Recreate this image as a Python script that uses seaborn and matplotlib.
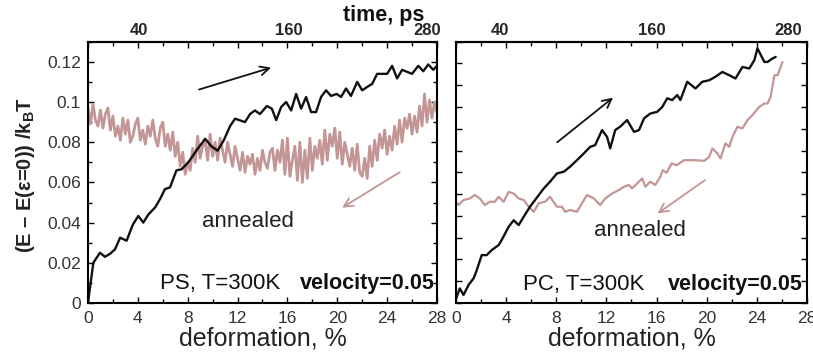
import numpy as np
import pandas as pd
import matplotlib
matplotlib.use("Agg")
import matplotlib.pyplot as plt
from matplotlib.ticker import MultipleLocator, FuncFormatter, NullLocator
import seaborn as sns

# PS panel, deformation run (black)
ps_def_x = [0, 0.43, 0.96, 1.36, 1.77, 2.17, 2.58, 3.1, 3.6, 4.04, 4.44, 4.84, 5.38, 5.78,
            6.18, 6.58, 7.1, 7.5, 8.05, 8.8, 9.4, 9.9, 10.4, 10.9, 11.4, 11.8, 12.6, 13.0,
            13.4, 13.8, 14.35, 14.75, 15.1, 15.5, 15.9, 16.3, 16.7, 17.1, 17.5, 17.9, 18.3,
            18.7, 19.1, 19.5, 19.95, 20.3, 20.7, 21.1, 21.6, 22.0, 22.4, 22.8, 23.2, 24.0,
            24.4, 24.8, 25.2, 25.6, 26.0, 26.5, 26.9, 27.3, 27.7, 28.0]
ps_def_y = [0, 0.020, 0.025, 0.023, 0.0245, 0.0267, 0.0325, 0.031, 0.039, 0.0433, 0.040,
            0.044, 0.0475, 0.0517, 0.0567, 0.0575, 0.066, 0.0665, 0.070, 0.0767, 0.0817,
            0.078, 0.0758, 0.081, 0.088, 0.0917, 0.090, 0.094, 0.0958, 0.094, 0.098, 0.0967,
            0.091, 0.0975, 0.100, 0.0958, 0.104, 0.0967, 0.1025, 0.095, 0.095, 0.1025,
            0.1058, 0.103, 0.104, 0.1025, 0.1067, 0.103, 0.110, 0.1058, 0.1075, 0.109,
            0.114, 0.114, 0.118, 0.1117, 0.116, 0.115, 0.114, 0.118, 0.1153, 0.1187, 0.116,
            0.118]

# PS panel, annealed run (pink), sampled every 0.2 %
ps_ann_y = [0.097, 0.089, 0.099, 0.091, 0.088, 0.096, 0.087, 0.094, 0.097, 0.086,
            0.093, 0.083, 0.088, 0.081, 0.092, 0.084, 0.091, 0.080, 0.083, 0.089,
            0.092, 0.081, 0.086, 0.079, 0.088, 0.083, 0.091, 0.082, 0.078, 0.087,
            0.090, 0.078, 0.084, 0.076, 0.085, 0.073, 0.080, 0.068, 0.075, 0.064,
            0.070, 0.066, 0.077, 0.070, 0.083, 0.072, 0.078, 0.081, 0.071, 0.084,
            0.073, 0.080, 0.071, 0.082, 0.076, 0.070, 0.080, 0.074, 0.068, 0.078,
            0.072, 0.066, 0.075, 0.065, 0.073, 0.069, 0.074, 0.064, 0.072, 0.066,
            0.076, 0.070, 0.067, 0.075, 0.077, 0.066, 0.076, 0.070, 0.081, 0.064,
            0.082, 0.063, 0.071, 0.078, 0.061, 0.080, 0.060, 0.076, 0.062, 0.082,
            0.066, 0.078, 0.072, 0.081, 0.069, 0.086, 0.071, 0.084, 0.078, 0.087,
            0.072, 0.085, 0.069, 0.080, 0.074, 0.068, 0.077, 0.066, 0.079, 0.065,
            0.063, 0.072, 0.062, 0.078, 0.068, 0.081, 0.071, 0.084, 0.077, 0.086,
            0.074, 0.083, 0.076, 0.088, 0.079, 0.091, 0.080, 0.092, 0.087, 0.094,
            0.084, 0.093, 0.085, 0.098, 0.088, 0.104, 0.090, 0.101, 0.092, 0.100,
            0.095]
ps_ann_x = np.round(np.arange(len(ps_ann_y)) * 0.2, 1)

# PC panel, deformation run (black)
pc_def_x = [0, 0.3, 0.6, 1.0, 1.4, 1.65, 2.05, 2.45, 2.85, 3.4, 3.65, 4.2, 4.6, 5.0, 5.4,
            5.9, 6.5, 7.0, 7.5, 8.05, 8.6, 9.1, 9.65, 10.2, 10.7, 11.1, 11.65, 12.05, 12.3,
            12.7, 13.1, 13.65, 14.2, 14.6, 15.0, 15.5, 16.05, 16.45, 16.85, 17.25, 17.65,
            17.9, 18.45, 19.1, 19.65, 20.2, 20.7, 21.25, 21.8, 22.3, 22.85, 23.4, 23.8,
            24.05, 24.6, 24.85, 25.25, 25.5]
pc_def_y = [0.002, 0.0067, 0.0037, 0.0083, 0.0113, 0.015, 0.022, 0.022, 0.0243, 0.0266,
            0.029, 0.035, 0.038, 0.0358, 0.0396, 0.0442, 0.0488, 0.0526, 0.0557, 0.0595,
            0.0603, 0.0626, 0.0656, 0.0687, 0.0717, 0.0725, 0.0794, 0.0763, 0.071, 0.0794,
            0.081, 0.084, 0.0786, 0.0794, 0.0848, 0.087, 0.0878, 0.090, 0.094, 0.0932,
            0.0955, 0.0932, 0.1016, 0.0985, 0.1016, 0.1023, 0.1039, 0.1061, 0.1046, 0.1031,
            0.1084, 0.1077, 0.1115, 0.1169, 0.1107, 0.1107, 0.1123, 0.113]

# PC panel, annealed run (pink)
pc_ann_x = [0, 0.2, 0.6, 1.1, 1.5, 1.9, 2.3, 2.7, 3.1, 3.4, 3.8, 4.2, 4.6, 5.0, 5.4, 5.8,
            6.2, 6.6, 7.1, 7.5, 8.05, 8.45, 8.7, 9.1, 9.65, 10.05, 10.45, 11.0, 11.5, 11.9,
            12.45, 13.0, 13.4, 13.8, 14.05, 14.45, 14.85, 15.1, 15.5, 15.9, 16.3, 16.5,
            16.8, 17.2, 17.6, 18.2, 19.0, 19.8, 20.2, 20.45, 20.85, 21.1, 21.5, 21.8, 22.05,
            22.45, 22.85, 23.25, 23.65, 24.2, 24.6, 24.85, 25.1, 25.4, 25.65, 26.05]
pc_ann_y = [0.0465, 0.045, 0.0473, 0.048, 0.0496, 0.048, 0.045, 0.0465, 0.0465, 0.0488,
            0.0465, 0.051, 0.0503, 0.048, 0.0473, 0.0442, 0.0419, 0.0458, 0.0465, 0.0488,
            0.0442, 0.0442, 0.0419, 0.0427, 0.0419, 0.0458, 0.0496, 0.048, 0.045, 0.048,
            0.0503, 0.0519, 0.0534, 0.0542, 0.0526, 0.0549, 0.0572, 0.0534, 0.0557, 0.0542,
            0.058, 0.061, 0.0598, 0.0641, 0.0633, 0.0656, 0.0656, 0.0653, 0.0671, 0.071,
            0.0687, 0.0664, 0.0733, 0.0717, 0.0763, 0.0809, 0.0802, 0.084, 0.0863, 0.0901,
            0.0916, 0.0916, 0.0947, 0.1046, 0.1046, 0.1107]

x_ticks = [0, 4, 8, 12, 16, 20, 24, 28]
ps_time_pos = [4.1, 16.1, 27.2]
pc_time_pos = [3.5, 15.6, 26.5]
time_labels = ["40", "160", "280"]

BLACK = "#111111"
PINK = "#c39595"

sns.set_style("ticks")
plt.rcParams["font.family"] = ["Liberation Sans", "DejaVu Sans"]
plt.rcParams["mathtext.fontset"] = "custom"
plt.rcParams["mathtext.rm"] = "Liberation Sans"
plt.rcParams["mathtext.bf"] = "Liberation Sans:bold"

fig = plt.figure(figsize=(8.13, 3.53), dpi=100)
ax1 = fig.add_axes([0.1082, 0.1416, 0.4293, 0.7403])
ax2 = fig.add_axes([0.5609, 0.1416, 0.4317, 0.7403])


def style_axes(ax, ymax, ylabels, time_pos):
    ax.set_xlim(0, 28)
    ax.set_ylim(0, ymax)
    ax.set_xticks(x_ticks)
    ax.xaxis.set_minor_locator(MultipleLocator(2))
    if ylabels:
        ax.yaxis.set_major_locator(MultipleLocator(0.02))
        ax.yaxis.set_minor_locator(MultipleLocator(0.01))
        ax.yaxis.set_major_formatter(FuncFormatter(lambda v, p: "%g" % round(v, 3)))
    else:
        ax.yaxis.set_major_locator(MultipleLocator(0.01))
        ax.yaxis.set_minor_locator(NullLocator())
        ax.set_yticklabels([])
    for s in ax.spines.values():
        s.set_visible(True)
        s.set_linewidth(1.5)
        s.set_color("black")
    ax.tick_params(which="both", direction="in", top=True, right=True, width=1,
                   colors="black", labelsize=12.5, labelcolor="#333333")
    ax.tick_params(which="major", length=4)
    ax.tick_params(which="minor", length=3)
    ax.tick_params(axis="x", pad=6)
    ax.tick_params(axis="y", pad=5)
    ax.set_xlabel("deformation, %", fontsize=18, labelpad=0, color="#222222")
    ax.set_ylabel("")
    sec = ax.secondary_xaxis("top")
    sec.set_xticks(time_pos, time_labels)
    sec.xaxis.set_minor_locator(NullLocator())
    sec.tick_params(length=0, pad=3, labelsize=12)
    for lab in sec.get_xticklabels():
        lab.set_fontweight("bold")
    sec.spines["top"].set_linewidth(1.5)


# left panel: PS
sns.lineplot(x=ps_ann_x, y=ps_ann_y, ax=ax1, color=PINK, lw=2.0, estimator=None, sort=False)
sns.lineplot(x=ps_def_x, y=ps_def_y, ax=ax1, color=BLACK, lw=1.7, estimator=None, sort=False)
style_axes(ax1, 0.13, True, ps_time_pos)
ax1.annotate("", xy=(14.9, 0.1175), xytext=(8.7, 0.1058),
             arrowprops=dict(arrowstyle="->", lw=1.3, color=BLACK, mutation_scale=16))
ax1.annotate("", xy=(20.2, 0.0467), xytext=(25.2, 0.0658),
             arrowprops=dict(arrowstyle="->", lw=1.3, color=PINK, mutation_scale=16))
ax1.text(12.85, 0.0405, "annealed", fontsize=16, ha="center", va="center", color="#222222")
ax1.text(5.75, 0.0095, "PS, T=300K", fontsize=16, ha="left", va="center", color="#111111")
ax1.text(27.85, 0.0095, "velocity=0.05", fontsize=15.5, fontweight="bold",
         ha="right", va="center", color="#111111")

# right panel: PC
sns.lineplot(x=pc_ann_x, y=pc_ann_y, ax=ax2, color=PINK, lw=1.6, estimator=None, sort=False)
sns.lineplot(x=pc_def_x, y=pc_def_y, ax=ax2, color=BLACK, lw=1.7, estimator=None, sort=False)
style_axes(ax2, 0.12, False, pc_time_pos)
ax2.annotate("", xy=(12.7, 0.0951), xytext=(7.9, 0.073),
             arrowprops=dict(arrowstyle="->", lw=1.3, color=BLACK, mutation_scale=16))
ax2.annotate("", xy=(15.9, 0.0404), xytext=(20.05, 0.0572),
             arrowprops=dict(arrowstyle="->", lw=1.3, color=PINK, mutation_scale=16))
ax2.text(14.7, 0.0335, "annealed", fontsize=16, ha="center", va="center", color="#222222")
ax2.text(5.35, 0.0083, "PC, T=300K", fontsize=16, ha="left", va="center", color="#111111")
ax2.text(27.65, 0.0083, "velocity=0.05", fontsize=15.5, fontweight="bold",
         ha="right", va="center", color="#111111")

fig.text(0.031, 0.504, r"(E – E(ε=0)) /k$_\mathbf{B}$T", rotation=90, fontsize=14.5,
         fontweight="bold", ha="center", va="center", color="#222222")
fig.text(0.472, 0.957, "time, ps", fontsize=15.5, fontweight="bold",
         ha="center", va="center", color="#111111")

fig.savefig("out.png", dpi=100, facecolor="white")
